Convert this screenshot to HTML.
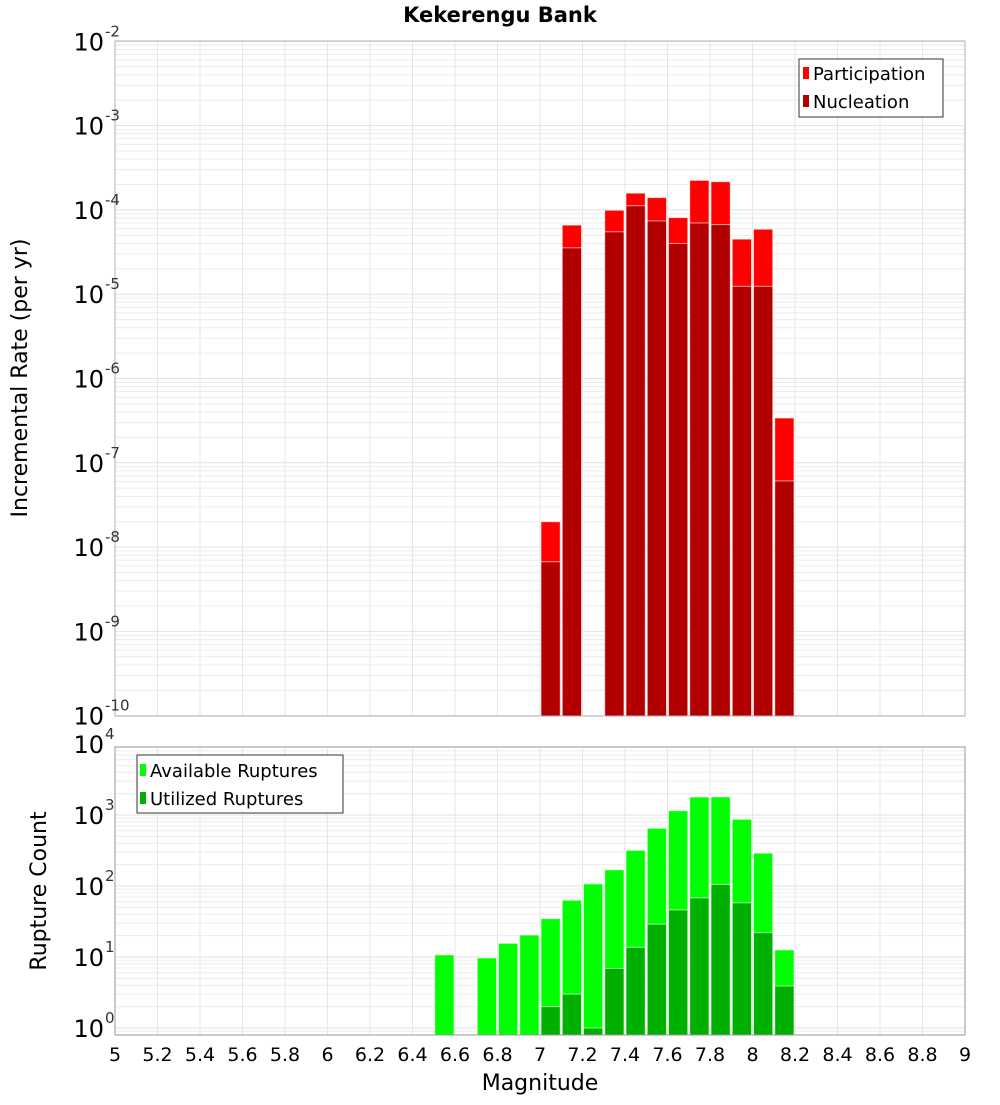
<!DOCTYPE html>
<html><head><meta charset="utf-8"><style>
body{margin:0;background:#fff;}
svg text{font-family:"DejaVu Sans","Liberation Sans",sans-serif;}
</style></head><body>
<svg id="chart" width="1000" height="1100" xmlns="http://www.w3.org/2000/svg">
<text x="500" y="22" text-anchor="middle" font-size="21" font-weight="bold">Kekerengu Bank</text>
<g id="top"></g><g id="bot"></g>
<text transform="translate(27,378) rotate(-90)" text-anchor="middle" font-size="22">Incremental Rate (per yr)</text>
<text transform="translate(46,891) rotate(-90)" text-anchor="middle" font-size="22">Rupture Count</text>
<text x="540" y="1090" text-anchor="middle" font-size="22">Magnitude</text>
<g>
<rect x="799" y="59" width="144" height="58" fill="#fff" stroke="#333"/>
<rect x="803" y="67" width="6" height="12" fill="#ff0000"/><text x="813" y="80" font-size="18">Participation</text>
<rect x="803" y="95" width="6" height="12" fill="#b20000"/><text x="813" y="108" font-size="18">Nucleation</text>
</g>
<g>
<rect x="137" y="755" width="206" height="58" fill="#fff" stroke="#333"/>
<rect x="140" y="764" width="6" height="12" fill="#00ff00"/><text x="150" y="777" font-size="18">Available Ruptures</text>
<rect x="140" y="792" width="6" height="12" fill="#00b000"/><text x="150" y="805" font-size="18">Utilized Ruptures</text>
</g>
</svg>
<script>
const topMags=[7.05,7.15,7.35,7.45,7.55,7.65,7.75,7.85,7.95,8.05,8.15];
const participation=[2e-8,6.6e-5,9.9e-5,1.58e-4,1.4e-4,8.1e-5,2.24e-4,2.16e-4,4.5e-5,5.9e-5,3.4e-7];
const nucleation=[6.7e-9,3.55e-5,5.5e-5,1.12e-4,7.4e-5,4e-5,7e-5,6.7e-5,1.24e-5,1.24e-5,6.1e-8];
const botMags=[6.55,6.75,6.85,6.95,7.05,7.15,7.25,7.35,7.45,7.55,7.65,7.75,7.85,7.95,8.05,8.15];
const available=[10.7,9.7,15.6,20.4,34.7,63,107,169,318,650,1150,1790,1800,870,290,12.6];
const utilized=[0,0,0,0,2.0,3.0,1.0,6.9,13.7,29,46,68,105,58,22,3.9];
const xTicks=[5,5.2,5.4,5.6,5.8,6,6.2,6.4,6.6,6.8,7,7.2,7.4,7.6,7.8,8,8.2,8.4,8.6,8.8,9];
const topExps=[-2,-3,-4,-5,-6,-7,-8,-9,-10];
const botExps=[0,1,2,3,4];
const NS='http://www.w3.org/2000/svg';
const L=115,R=965;
const x=m=>L+(m-5)*(R-L)/4;
function mk(p,t,a){const e=document.createElementNS(NS,t);for(const k in a)e.setAttribute(k,a[k]);p.appendChild(e);return e;}
const yTop=v=>41.3+(-2-Math.log10(v))*84.3;
const yBot=v=>1028-71*Math.log10(v);
function panel(g,y0,y1,yf,eLo,eHi,name){
  const bg=mk(g,'rect',{x:L,y:y0,width:R-L,height:y1-y0,fill:'#fff'});
  
  
  for(let e=eLo-1;e<=eHi;e++)for(let k=1;k<10;k++){const yy=yf(k*Math.pow(10,e));if(yy<y0||yy>y1)continue;
    mk(g,'line',{x1:L,x2:R,y1:yy,y2:yy,stroke:k==1?'#e2e2e2':'#ececec','stroke-width':1});}
  for(const t of xTicks){mk(g,'line',{x1:x(t),x2:x(t),y1:y0,y2:y1,stroke:'#e6e6e6'});}
}
function labels(g,exps,yf,name){
  for(const e of exps){const yy=yf(Math.pow(10,e));
    const t=mk(g,'text',{x:104,y:yy+9,'text-anchor':'end','font-size':24});
    
    
    t.textContent='10';
    const s=mk(g,'text',{x:105,y:yy-5,'font-size':15,fill:'#333'});
    
    
    s.textContent=String(e);}
}
function bars(g,mags,vals,yf,yb,col,name){
  mags.forEach((m,i)=>{if(!(vals[i]>0))return;const yy=Math.max(yf(vals[i]),0);
    const r=mk(g,'rect',{x:x(m-0.05)+1,y:yy,width:x(m+0.05)-x(m-0.05)-2,height:yb-yy,fill:col,stroke:'rgba(255,255,255,0.6)','stroke-width':1});
    
    });
}
const tg=document.getElementById('top'),bgp=document.getElementById('bot');
panel(tg,41,716,yTop,-10,-2,'top');
bars(tg,topMags,participation,yTop,716,'#ff0000','participation-bar');
bars(tg,topMags,nucleation,yTop,716,'#b20000','nucleation-bar');
mk(tg,'rect',{x:L,y:41,width:R-L,height:675,fill:'none',stroke:'#b0b0b0'});
labels(tg,topExps,yTop,'top');
panel(bgp,747,1035,yBot,0,4,'bottom');
bars(bgp,botMags,available,yBot,1035,'#00ff00','available-bar');
bars(bgp,botMags,utilized,yBot,1035,'#00b000','utilized-bar');
mk(bgp,'rect',{x:L,y:747,width:R-L,height:288,fill:'none',stroke:'#999'});
labels(bgp,botExps,yBot,'bottom');
xTicks.forEach(t=>{const e=mk(bgp,'text',{x:x(t),y:1061,'text-anchor':'middle','font-size':19});
  
  
  e.textContent=String(t);});
</script>
</body></html>
